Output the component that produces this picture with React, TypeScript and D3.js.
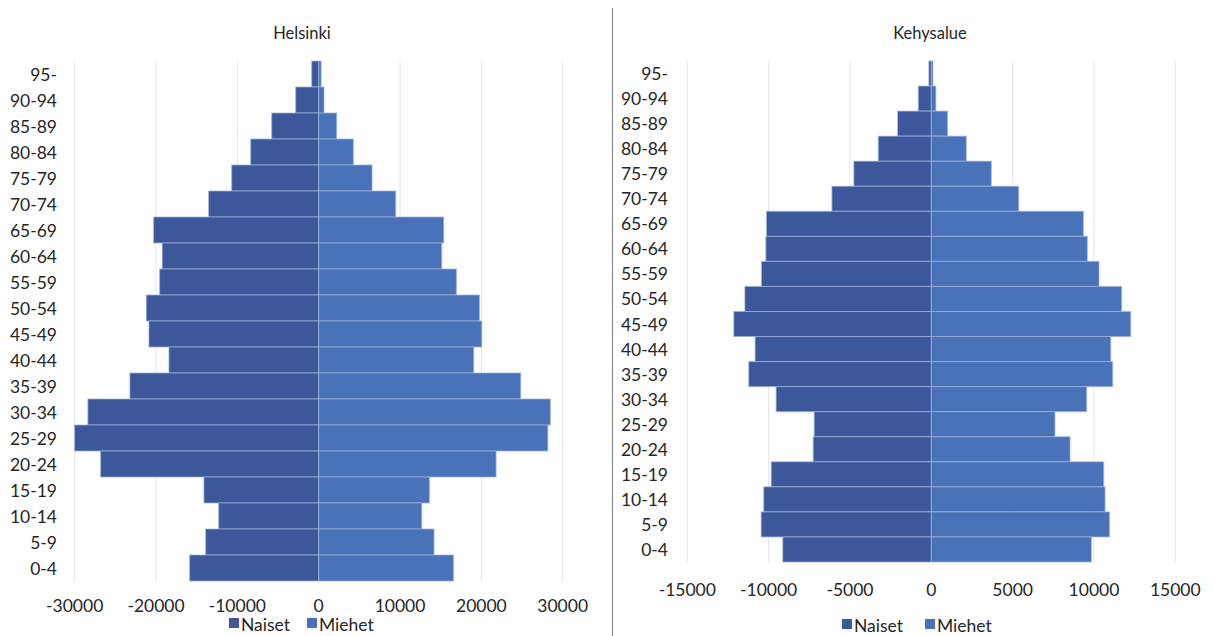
import React from "react";
import * as d3 from "d3";

const ageGroups = ["95-", "90-94", "85-89", "80-84", "75-79", "70-74", "65-69", "60-64", "55-59", "50-54", "45-49", "40-44", "35-39", "30-34", "25-29", "20-24", "15-19", "10-14", "5-9", "0-4"];

const helsinkiNaiset = [-860, -2830, -5780, -8360, -10700, -13530, -20300, -19240, -19560, -21200, -20870, -18410, -23210, -28380, -30010, -26810, -14110, -12300, -13900, -15870];
const helsinkiMiehet = [300, 650, 2210, 4260, 6560, 9470, 15370, 15130, 16930, 19760, 20050, 19060, 24840, 28490, 28170, 21810, 13610, 12670, 14180, 16560];

const kehysNaiset = [-150, -800, -2070, -3260, -4760, -6110, -10130, -10170, -10440, -11460, -12140, -10830, -11220, -9540, -7200, -7260, -9840, -10300, -10460, -9130];
const kehysMiehet = [100, 280, 1000, 2150, 3690, 5370, 9350, 9590, 10310, 11700, 12260, 11030, 11150, 9550, 7600, 8530, 10600, 10680, 10950, 9840];

const helsinkiTicks = [-30000, -20000, -10000, 0, 10000, 20000, 30000];
const kehysTicks = [-15000, -10000, -5000, 0, 5000, 10000, 15000];

const seriesNames = ["Naiset", "Miehet"];
const COLORS = ["#3C579A", "#4A72B9"];
const FONT = "Lato, 'Open Sans', sans-serif";
const TEXT = "#262626";

type PyramidProps = {
  title: string;
  titleX: number;
  naiset: number[];
  miehet: number[];
  ticks: number[];
  x0: number;
  x1: number;
  top: number;
  bottom: number;
  labelX: number;
  tickY: number;
  legendY: number;
  legendX: number;
  legendGap: number;
};

function Pyramid(p: PyramidProps) {
  const ext = d3.max(p.ticks.map(Math.abs)) as number;
  const x = d3.scaleLinear().domain([-ext, ext]).range([p.x0, p.x1]);
  const y = d3.scaleBand<string>().domain(ageGroups).range([p.top, p.bottom]).padding(0);
  const bw = y.bandwidth();
  const series = [p.naiset, p.miehet];
  return (
    <g>
      <text x={p.titleX} y={33} textAnchor="middle" dominantBaseline="central" fontFamily={FONT} fontSize={16.5} fill={TEXT}>
        {p.title}
      </text>
      {p.ticks.map((t) => (
        <line key={"g" + t} x1={x(t)} x2={x(t)} y1={p.top} y2={p.bottom} stroke="#e3e3e3" strokeWidth={1} />
      ))}
      {series.map((vals, si) =>
        vals.map((v, i) => {
          const a = x(Math.min(0, v));
          const b = x(Math.max(0, v));
          return (
            <rect
              key={si + "-" + i}
              x={a}
              y={y(ageGroups[i]) as number}
              width={Math.max(0, b - a)}
              height={bw}
              fill={COLORS[si]}
              stroke="#9fb2da"
              strokeOpacity={0.75}
              strokeWidth={1}
            />
          );
        })
      )}
      {ageGroups.map((g) => (
        <text key={"l" + g} x={p.labelX} y={(y(g) as number) + bw / 2} textAnchor="end" dominantBaseline="central" fontFamily={FONT} fontSize={17.5} fill={TEXT}>
          {g}
        </text>
      ))}
      {p.ticks.map((t) => (
        <text key={"t" + t} x={x(t)} y={p.tickY} textAnchor="middle" dominantBaseline="central" fontFamily={FONT} fontSize={17.5} fill={TEXT}>
          {t}
        </text>
      ))}
      {seriesNames.map((n, i) => {
        const lx = p.legendX + i * p.legendGap;
        return (
          <g key={"leg" + n}>
            <rect x={lx} y={p.legendY - 5} width={10} height={10} fill={COLORS[i]} />
            <text x={lx + 12} y={p.legendY + 1} dominantBaseline="central" fontFamily={FONT} fontSize={17.5} fill={TEXT}>
              {n}
            </text>
          </g>
        );
      })}
    </g>
  );
}

export default function App() {
  return (
    <svg width={1214} height={636} style={{ position: "absolute", left: 0, top: 0, background: "#fff" }}>
      <rect x={0} y={0} width={1214} height={636} fill="#ffffff" />
      <Pyramid
        title="Helsinki"
        titleX={302}
        naiset={helsinkiNaiset}
        miehet={helsinkiMiehet}
        ticks={helsinkiTicks}
        x0={74.7}
        x1={562.7}
        top={61}
        bottom={581}
        labelX={57}
        tickY={605}
        legendY={623}
        legendX={229}
        legendGap={78}
      />
      <line x1={612.5} x2={612.5} y1={8} y2={636} stroke="#8c8c8c" strokeWidth={1.2} />
      <Pyramid
        title="Kehysalue"
        titleX={930}
        naiset={kehysNaiset}
        miehet={kehysMiehet}
        ticks={kehysTicks}
        x0={687.3}
        x1={1175.3}
        top={61}
        bottom={562}
        labelX={668}
        tickY={589}
        legendY={624}
        legendX={842}
        legendGap={83}
      />
    </svg>
  );
}
